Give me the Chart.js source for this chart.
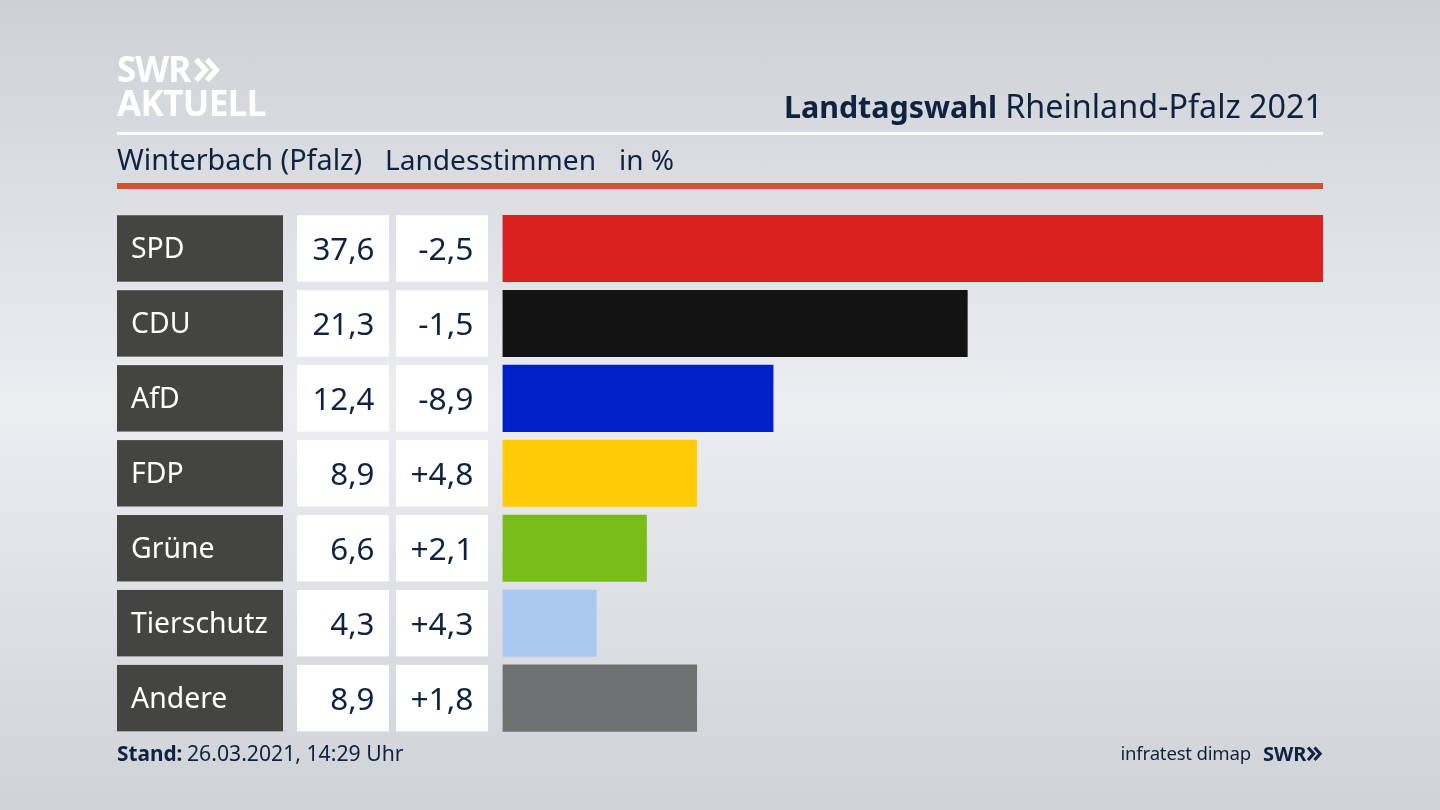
<!DOCTYPE html>
<html lang="de">
<head>
<meta charset="utf-8">
<title>Landtagswahl Rheinland-Pfalz 2021</title>
<script src="https://cdn.jsdelivr.net/npm/chart.js@4"></script>
<style>
html, body { margin: 0; padding: 0; width: 1440px; height: 810px; overflow: hidden; }
body { background: linear-gradient(180deg, #cdd0d5 0%, #ebedf1 50%, #cfd2d7 100%); }
canvas { display: block; }
</style>
</head>
<body>
<canvas id="chart" width="1440" height="810"></canvas>
<script>
const parties = ['SPD', 'CDU', 'AfD', 'FDP', 'Grüne', 'Tierschutz', 'Andere'];
const shares = [37.6, 21.3, 12.4, 8.9, 6.6, 4.3, 8.9];
const changes = [-2.5, -1.5, -8.9, 4.8, 2.1, 4.3, 1.8];
const partyColors = ['#d8201f', '#131313', '#0021c8', '#ffcc06', '#7abc1a', '#abc8f0', '#707173'];

const NAVY = '#0f2340';
const FONT = '"Noto Sans", sans-serif';
const BAR_HEIGHT = 66.4;

function formatShare(v) {
	return v.toFixed(1).replace('.', ',');
}

function formatChange(v) {
	return (v > 0 ? '+' : '-') + Math.abs(v).toFixed(1).replace('.', ',');
}

function chevrons(ctx, x, y, h, color) {
	// the two arrows behind the SWR logo
	ctx.strokeStyle = color;
	ctx.lineWidth = h * 0.25;
	ctx.lineJoin = 'miter';
	[0, h * 0.52].forEach(function(dx) {
		ctx.beginPath();
		ctx.moveTo(x + dx, y);
		ctx.lineTo(x + dx + h * 0.45, y + h / 2);
		ctx.lineTo(x + dx, y + h);
		ctx.stroke();
	});
}

function text(ctx, str, x, y, font, color, align, spacing) {
	ctx.font = font;
	ctx.fillStyle = color;
	ctx.textAlign = align || 'left';
	ctx.textBaseline = 'alphabetic';
	ctx.letterSpacing = spacing || '0px';
	ctx.fillText(str, x, y);
	ctx.letterSpacing = '0px';
}

const frame = {
	id: 'frame',
	beforeDraw(chart) {
		const ctx = chart.ctx;
		const yScale = chart.scales.y;
		ctx.save();

		// logo
		text(ctx, 'SWR', 117, 82, 'bold 35px ' + FONT, '#ffffff', 'left', '-1px');
		chevrons(ctx, 196, 59.5, 21, '#ffffff');
		text(ctx, 'AKTUELL', 117, 116, 'bold 35px ' + FONT, '#ffffff', 'left', '-0.6px');

		// header
		ctx.fillStyle = '#ffffff';
		ctx.fillRect(117, 132, 1206, 3);
		ctx.fillStyle = '#cf5237';
		ctx.fillRect(117, 183, 1206, 6);

		text(ctx, 'Rheinland-Pfalz 2021', 1323, 118, '32.3px ' + FONT, NAVY, 'right');
		text(ctx, 'Landtagswahl', 997, 118, 'bold 30.4px ' + FONT, NAVY, 'right');
		text(ctx, 'Winterbach (Pfalz)', 117, 170, '28.8px ' + FONT, NAVY);
		text(ctx, 'Landesstimmen', 385, 170, '28.1px ' + FONT, NAVY);
		text(ctx, 'in %', 619, 170, '28px ' + FONT, NAVY);

		// table cells
		parties.forEach(function(party, i) {
			const center = yScale.getPixelForValue(i);
			const top = center - BAR_HEIGHT / 2;
			ctx.fillStyle = '#444441';
			ctx.fillRect(117, top, 166, BAR_HEIGHT);
			ctx.fillStyle = '#ffffff';
			ctx.fillRect(297, top, 92, BAR_HEIGHT);
			ctx.fillRect(396, top, 92, BAR_HEIGHT);
			text(ctx, party, 131, center + 10, '28.4px ' + FONT, '#ffffff');
			text(ctx, formatShare(shares[i]), 374.5, center + 11.5, '31.3px ' + FONT, NAVY, 'right');
			text(ctx, formatChange(changes[i]), 473.5, center + 11.5, '31.8px ' + FONT, NAVY, 'right');
		});

		// footer
		text(ctx, 'Stand:', 117, 761, 'bold 20.8px ' + FONT, NAVY);
		text(ctx, '26.03.2021, 14:29 Uhr', 187, 761, '21.2px ' + FONT, NAVY);
		text(ctx, 'infratest dimap', 1251, 760, '18.6px ' + FONT, NAVY, 'right', '-0.2px');
		text(ctx, 'SWR', 1263, 761, 'bold 20px ' + FONT, NAVY);
		chevrons(ctx, 1308, 747.5, 12.5, NAVY);

		ctx.restore();
	}
};

new Chart(document.getElementById('chart'), {
	type: 'bar',
	data: {
		labels: parties,
		datasets: [{
			data: shares,
			backgroundColor: partyColors,
			barThickness: BAR_HEIGHT,
			borderWidth: 0
		}]
	},
	options: {
		indexAxis: 'y',
		responsive: false,
		animation: false,
		devicePixelRatio: 1,
		layout: {padding: {left: 502.5, right: 117, top: 211, bottom: 74.4}},
		plugins: {legend: {display: false}, tooltip: {enabled: false}},
		scales: {
			x: {display: false, min: 0, max: 37.6},
			y: {display: false}
		}
	},
	plugins: [frame]
});
</script>
</body>
</html>
